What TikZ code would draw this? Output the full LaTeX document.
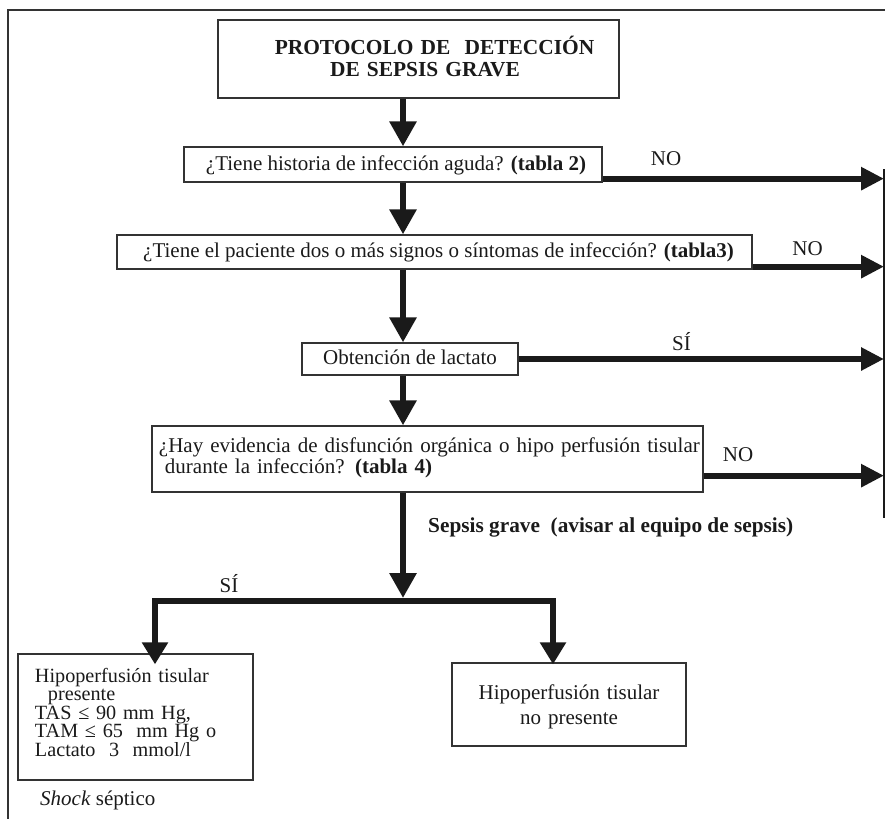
\documentclass[tikz,border=0pt]{standalone}
\usepackage{fontspec}
\setmainfont{Liberation Serif}
\usetikzlibrary{arrows.meta}
\definecolor{ink}{HTML}{1A1A1A}
\definecolor{edgec}{HTML}{333333}
\tikzset{
  box/.style={draw=edgec, line width=1.3bp, rectangle, inner sep=0pt, text=ink,
    font=\fontsize{21bp}{21bp}\selectfont},
  lbl/.style={text=ink, inner sep=0pt, font=\fontsize{21bp}{21bp}\selectfont},
  flow/.style={draw=ink, line width=6bp, -{Triangle[length=25bp,width=26bp]}},
  flowh/.style={draw=ink, line width=6bp, -{Triangle[length=23bp,width=22bp]}},
  flowb/.style={draw=ink, line width=6bp, line join=miter, -{Triangle[length=22bp,width=25bp]}},
  rail/.style={draw=ink, line width=2bp},
  frame/.style={draw=edgec, line width=2bp},
}
\begin{document}
\begin{tikzpicture}[x=1bp,y=-1bp]
\useasboundingbox (0,0) rectangle (885,819);
\draw[frame] (8,819) -- (8,10) -- (885,10);

\coordinate (spine) at (403,0);
\coordinate (rtop) at (884,169);
\coordinate (rbot) at (884,518);

\node[box, minimum width=401bp, minimum height=78bp, text width=401bp, align=center,
  text height=16bp, text depth=24bp, font=\bfseries\fontsize{21.4bp}{22bp}\selectfont]
  (title) at (418.5,59) {\hspace*{32bp}PROTOCOLO DE\ \ DETECCIÓN\\\hspace*{13bp}DE SEPSIS GRAVE};

\node[box, minimum width=418bp, minimum height=35bp, text height=15bp, text depth=4bp]
  (q1) at (393,164.5) {\hspace*{6bp}¿Tiene historia de infección aguda? \textbf{(tabla 2)}};

\node[box, minimum width=635bp, minimum height=34bp, text height=15bp, text depth=4bp]
  (q2) at (434.5,252) {\hspace*{8bp}¿Tiene el paciente dos o más signos o síntomas de infección? \textbf{(tabla3)}};

\node[box, minimum width=216bp, minimum height=32bp, text height=15bp, text depth=4bp]
  (q3) at (410,359) {Obtención de lactato};

\node[box, minimum width=551bp, minimum height=66bp, text width=537bp, align=left,
  text height=15bp, text depth=29bp]
  (q4) at (427.5,459) {\mbox{¿Hay evidencia de disfunción orgánica o hipo perfusión tisular}\\\hspace*{6bp}durante la infección? \textbf{(tabla 4)}};

\node[box, minimum width=235bp, minimum height=126bp, text width=201bp, align=left,
  text height=15bp, text depth=85bp, font=\fontsize{20.2bp}{18.5bp}\selectfont]
  (lbox) at (135.5,717) {\mbox{Hipoperfusión tisular}\\\hspace*{13bp}presente\\TAS ≤ 90 mm Hg,\\TAM ≤ 65\ \ mm Hg o\\Lactato\ \ 3\ \ mmol/l};

\node[box, minimum width=234bp, minimum height=83bp, text width=234bp, align=center,
  text height=15bp, text depth=26bp, font=\fontsize{21bp}{25bp}\selectfont]
  (rbox) at (569,704.5) {Hipoperfusión tisular\\no presente};

% vertical flow
\draw[flow] (title.south -| spine) -- (q1.north -| spine);
\draw[flow] (q1.south -| spine) -- (q2.north -| spine);
\draw[flow] (q2.south -| spine) -- (q3.north -| spine);
\draw[flow] (q3.south -| spine) -- (q4.north -| spine);

% exits to the right
\draw[rail] (rtop) -- (rbot);
\draw[flowh] ([yshift=4bp]q1.south east) -- ([yshift=4bp]q1.south east -| rtop);
\draw[flowh] ([yshift=3bp]q2.south east) -- ([yshift=3bp]q2.south east -| rtop);
\draw[flowh] (q3.east) -- (q3.east -| rtop);
\draw[flowh] ([yshift=17bp]q4.south east) -- ([yshift=17bp]q4.south east -| rtop);

\node[lbl, anchor=base] (no1) at (666,165) {NO};
\node[lbl, anchor=base] (no2) at (807.5,255) {NO};
\node[lbl, anchor=base] (si1) at (681.5,350) {SÍ};
\node[lbl, anchor=base] (no3) at (738,461) {NO};

% split
\coordinate (junc) at (403,601);
\coordinate (lturn) at (155,601);
\coordinate (rturn) at (553,601);
\draw[flow] (q4.south -| spine) -- ([yshift=3bp]junc);
\draw[flowb] (junc) -| ([yshift=-11bp]lbox.north -| lturn);
\draw[flowb] (junc) -| ([yshift=-2bp]rbox.north -| rturn);

\node[lbl, anchor=base west, font=\bfseries\fontsize{21.3bp}{21bp}\selectfont] (sg) at (428,532)
  {Sepsis grave\ \ (avisar al equipo de sepsis)};
\node[lbl, anchor=base] (si2) at (229,592) {SÍ};
\node[lbl, anchor=base west] (shock) at (40,805) {\textit{Shock} séptico};
\end{tikzpicture}
\end{document}
